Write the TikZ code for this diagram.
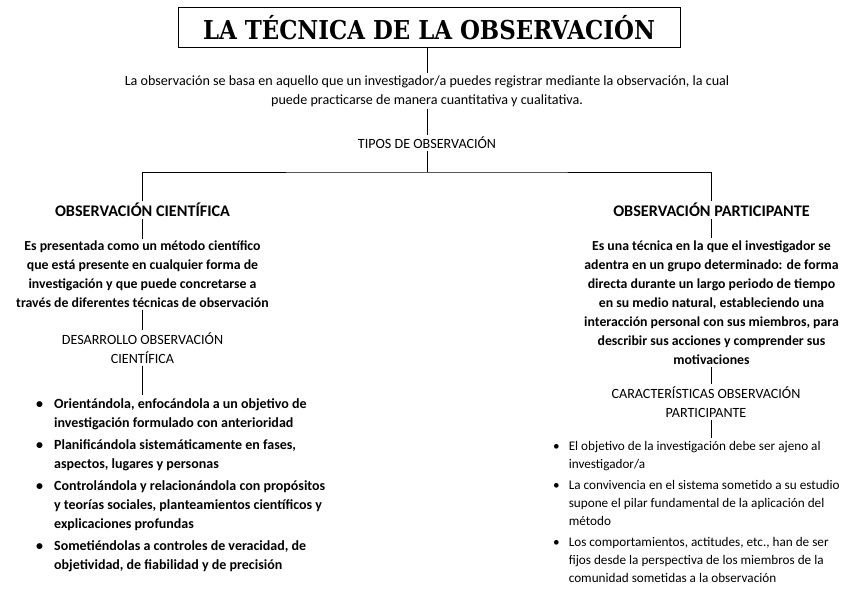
\documentclass[tikz,border=0pt]{standalone}
\usepackage{fontspec}
\setmainfont{Carlito}
\newfontfamily\titlefont[FakeStretch=0.88]{DejaVu Serif}
\tikzset{
  texto/.style={align=center, inner sep=2pt, font=\fontsize{14.1}{19}\selectfont},
  negrita/.style={align=center, inner sep=2pt, font=\fontsize{13.8}{19}\selectfont\bfseries},
  rotulo/.style={align=center, inner sep=2pt, font=\fontsize{16.2}{19}\selectfont\bfseries},
  lista/.style={anchor=west, inner sep=0pt},
  linea/.style={line width=1pt},
}
\begin{document}
\begin{tikzpicture}[x=1pt,y=-1pt]
	\useasboundingbox (0,0) rectangle (848,599);
	\node[draw, line width=1pt, minimum width=502pt, minimum height=40pt, font=\titlefont\bfseries\fontsize{26}{26}\selectfont] (titulo) at (429,28) {LA TÉCNICA DE LA OBSERVACIÓN};
	\node[texto] (intro) at (427,91) {La observación se basa en aquello que un investigador/a puedes registrar mediante la observación, la cual\\ puede practicarse de manera cuantitativa y cualitativa.};
	\node[texto] (tipos) at (427,143) {TIPOS DE OBSERVACIÓN};
	\coordinate (rama) at (427,172);
	% rama izquierda
	\node[rotulo] (cientifica) at (142.5,210) {OBSERVACIÓN CIENTÍFICA};
	\node[negrita] (defcien) at (142.5,274.5) {Es presentada como un método científico\\ que está presente en cualquier forma de\\ investigación y que puede concretarse a\\ través de diferentes técnicas de observación};
	\node[texto] (desarrollo) at (142.5,348) {DESARROLLO OBSERVACIÓN\\ CIENTÍFICA};
	\node[lista, font=\fontsize{14}{19}\selectfont\bfseries] (puntoscien) at (36,485) {%
		\begin{tabular}{@{}l@{\hspace{11pt}}l@{}}
		\textbullet & Orientándola, enfocándola a un objetivo de\\
		 & investigación formulado con anterioridad\\[3pt]
		\textbullet & Planificándola sistemáticamente en fases,\\
		 & aspectos, lugares y personas\\[3pt]
		\textbullet & Controlándola y relacionándola con propósitos\\
		 & y teorías sociales, planteamientos científicos y\\
		 & explicaciones profundas\\[3pt]
		\textbullet & Sometiéndolas a controles de veracidad, de\\
		 & objetividad, de fiabilidad y de precisión
		\end{tabular}};
	% rama derecha
	\node[rotulo] (participante) at (711.5,210) {OBSERVACIÓN PARTICIPANTE};
	\node[negrita] (defpart) at (711.5,302.5) {Es una técnica en la que el investigador se\\ adentra en un grupo determinado: de forma\\ directa durante un largo periodo de tiempo\\ en su medio natural, estableciendo una\\ interacción personal con sus miembros, para\\ describir sus acciones y comprender sus\\ motivaciones};
	\node[texto] (caracteristicas) at (706,402) {CARACTERÍSTICAS OBSERVACIÓN\\ PARTICIPANTE};
	\node[lista, font=\fontsize{13.2}{18.2}\selectfont] (puntospart) at (553,513) {%
		\begin{tabular}{@{}l@{\hspace{9pt}}l@{}}
		\textbullet & El objetivo de la investigación debe ser ajeno al\\
		 & investigador/a\\[2.5pt]
		\textbullet & La convivencia en el sistema sometido a su estudio\\
		 & supone el pilar fundamental de la aplicación del\\
		 & método\\[2.5pt]
		\textbullet & Los comportamientos, actitudes, etc., han de ser\\
		 & fijos desde la perspectiva de los miembros de la\\
		 & comunidad sometidas a la observación
		\end{tabular}};
	% conectores
	\draw[linea] (intro.north |- titulo.south) -- (intro.north);
	\draw[linea] (intro) -- (tipos);
	\draw[linea] (tipos) -- (rama);
	\draw[linea] (cientifica) |- (rama) -| (participante);
	\draw[linea] (cientifica) -- (defcien);
	\draw[linea] (defcien) -- (desarrollo);
	\draw[linea] (desarrollo.south) -- (desarrollo.south |- puntoscien.north);
	\draw[linea] (participante) -- (defpart);
	\draw[linea] (defpart.south) -- (defpart.south |- caracteristicas.north);
	\draw[linea] (defpart.south |- caracteristicas.south) -- (defpart.south |- puntospart.north);
\end{tikzpicture}
\end{document}
